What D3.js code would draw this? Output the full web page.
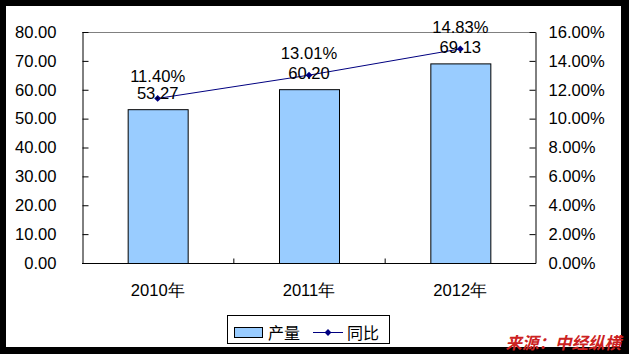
<!DOCTYPE html>
<html>
<head>
<meta charset="utf-8">
<script src="https://cdn.jsdelivr.net/npm/d3@7"></script>
<style>
  body { margin: 0; background: #000; }
  svg { display: block; }
  text { font-family: "Liberation Sans", Arial, sans-serif; fill: #000; }
</style>
</head>
<body>
<div id="chart"></div>
<script>
var years = ['2010年', '2011年', '2012年']
var output = [53.27, 60.20, 69.13]
var growth = [11.40, 13.01, 14.83]
var leftTicks = [0, 10, 20, 30, 40, 50, 60, 70, 80]
var rightTicks = [0, 2, 4, 6, 8, 10, 12, 14, 16]

var w = 629, h = 354
var fs = '16.6px'
var svg = d3.select('#chart').append('svg')
  .attr('width', w)
  .attr('height', h)

// black frame + white chart area
svg.append('rect').attr('width', w).attr('height', h).attr('fill', '#000')
svg.append('rect').attr('x', 6).attr('y', 6).attr('width', 615).attr('height', 341).attr('fill', '#fff')

var plot = { left: 82, top: 32, right: 536, bottom: 263 }

var x = d3.scaleBand()
  .domain(years)
  .range([plot.left, plot.right])
  .paddingInner(0)
  .paddingOuter(0)

var yL = d3.scaleLinear().domain([0, 80]).range([plot.bottom, plot.top])
var yR = d3.scaleLinear().domain([0, 16]).range([plot.bottom, plot.top])

// top border of plot area
svg.append('line')
  .attr('x1', plot.left).attr('x2', plot.right)
  .attr('y1', plot.top + 0.5).attr('y2', plot.top + 0.5)
  .attr('stroke', '#808080')

// bars
var barW = 60
svg.selectAll('rect.bar')
  .data(output)
  .enter()
  .append('rect')
  .attr('class', 'bar')
  .attr('x', (d, i) => x(years[i]) + x.bandwidth() / 2 - barW / 2 + 0.5)
  .attr('y', d => yL(d) + 0.5)
  .attr('width', barW)
  .attr('height', d => plot.bottom - yL(d))
  .attr('fill', '#99ccff')
  .attr('stroke', '#000')
  .attr('stroke-width', 1)

// left axis
var axL = svg.append('g')
  .attr('transform', 'translate(' + (plot.left + 0.5) + ',0)')
  .call(d3.axisLeft(yL).tickValues(leftTicks).tickSizeInner(-6).tickSizeOuter(0).tickPadding(20).tickFormat(d3.format('.2f')))
axL.select('.domain').attr('stroke', '#000')
axL.selectAll('line').attr('stroke', '#000')
axL.selectAll('text').style('font-size', fs).attr('fill', '#000').attr('dx', '-6')

// right axis
var axR = svg.append('g')
  .attr('transform', 'translate(' + (plot.right - 0.5) + ',0)')
  .call(d3.axisRight(yR).tickValues(rightTicks).tickSizeInner(-6).tickSizeOuter(0).tickPadding(13).tickFormat(d => d3.format('.2f')(d) + '%'))
axR.select('.domain').attr('stroke', '#000')
axR.selectAll('line').attr('stroke', '#000')
axR.selectAll('text').style('font-size', fs).attr('fill', '#000').attr('text-anchor', 'start')

// bottom axis
var axB = svg.append('g')
  .attr('transform', 'translate(0,' + (plot.bottom + 0.5) + ')')
axB.append('line')
  .attr('x1', plot.left).attr('x2', plot.right)
  .attr('stroke', '#000')
axB.selectAll('line.tick')
  .data(years.slice(1))
  .enter()
  .append('line')
  .attr('class', 'tick')
  .attr('x1', d => x(d) + 0.5).attr('x2', d => x(d) + 0.5)
  .attr('y1', 0).attr('y2', -5)
  .attr('stroke', '#000')
axB.selectAll('text')
  .data(years)
  .enter()
  .append('text')
  .attr('x', d => x(d) + x.bandwidth() / 2)
  .attr('y', 32)
  .attr('text-anchor', 'middle')
  .style('font-size', fs)
  .text(d => d)

// growth line
var line = d3.line()
  .x((d, i) => x(years[i]) + x.bandwidth() / 2)
  .y(d => yR(d))

svg.append('path')
  .datum(growth)
  .attr('d', line)
  .attr('fill', 'none')
  .attr('stroke', '#000080')
  .attr('stroke-width', 1)

var diamond = d3.symbol().type(d3.symbolDiamond2).size(30)
svg.selectAll('path.pt')
  .data(growth)
  .enter()
  .append('path')
  .attr('class', 'pt')
  .attr('d', diamond)
  .attr('transform', (d, i) => 'translate(' + (x(years[i]) + x.bandwidth() / 2) + ',' + yR(d) + ')')
  .attr('fill', '#000080')

// bar value labels
svg.selectAll('text.barlbl')
  .data(output)
  .enter()
  .append('text')
  .attr('class', 'barlbl')
  .attr('x', (d, i) => x(years[i]) + x.bandwidth() / 2)
  .attr('y', d => yL(d) - 10)
  .attr('text-anchor', 'middle')
  .style('font-size', fs)
  .text(d => d3.format('.2f')(d))

// growth labels
svg.selectAll('text.pctlbl')
  .data(growth)
  .enter()
  .append('text')
  .attr('class', 'pctlbl')
  .attr('x', (d, i) => x(years[i]) + x.bandwidth() / 2)
  .attr('y', d => yR(d) - 16)
  .attr('text-anchor', 'middle')
  .style('font-size', fs)
  .text(d => d3.format('.2f')(d) + '%')

// legend
var lg = svg.append('g')
lg.append('rect')
  .attr('x', 227.5).attr('y', 315.5).attr('width', 162).attr('height', 28)
  .attr('fill', '#fff').attr('stroke', '#000')
lg.append('rect')
  .attr('x', 234.5).attr('y', 327.5).attr('width', 28).attr('height', 10)
  .attr('fill', '#99ccff').attr('stroke', '#000')
lg.append('text')
  .attr('x', 268).attr('y', 339)
  .style('font-size', '16px')
  .style('font-family', '"Noto Sans CJK SC", sans-serif')
  .text('产量')
lg.append('line')
  .attr('x1', 313).attr('x2', 343).attr('y1', 332.5).attr('y2', 332.5)
  .attr('stroke', '#000080')
lg.append('path')
  .attr('d', diamond)
  .attr('transform', 'translate(328,332.5)')
  .attr('fill', '#000080')
lg.append('text')
  .attr('x', 347).attr('y', 339)
  .style('font-size', '16px')
  .style('font-family', '"Noto Sans CJK SC", sans-serif')
  .text('同比')

// source
svg.append('text')
  .attr('x', 621).attr('y', 349)
  .attr('text-anchor', 'end')
  .style('font-size', '16.5px')
  .style('font-weight', 'bold')
  .style('font-style', 'italic')
  .style('font-family', '"Noto Sans CJK SC", sans-serif')
  .style('fill', '#cc2222')
  .text('来源：中经纵横')
</script>
</body>
</html>
